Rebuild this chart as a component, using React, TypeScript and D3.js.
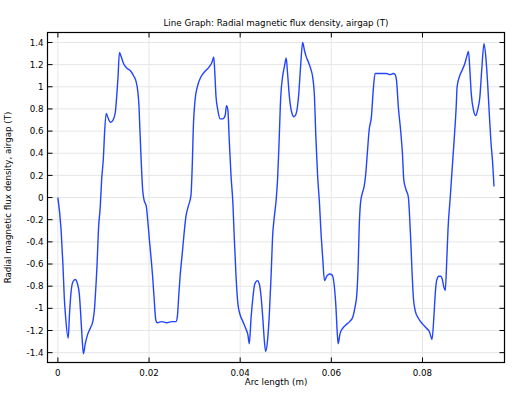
import React from "react";
import * as d3 from "d3";

const arcLength: number[] = [
  0, 0.0007, 0.0011, 0.0014, 0.0017, 0.00226, 0.00255, 0.00285, 0.0033, 0.0038, 0.0043, 0.0047, 0.005, 0.0053, 0.0056,
  0.006, 0.0065, 0.0071, 0.0077, 0.008, 0.0082, 0.0086, 0.0089, 0.0093, 0.0096, 0.01, 0.0102, 0.0106, 0.011, 0.0115,
  0.0121, 0.0126, 0.0129, 0.0132, 0.0135, 0.0139, 0.0144, 0.0151, 0.016, 0.0166, 0.0172, 0.0175, 0.0178, 0.018, 0.0183,
  0.0186, 0.0189, 0.0194, 0.0197, 0.0201, 0.0205, 0.0208, 0.0211, 0.0215, 0.0218, 0.0228, 0.0239, 0.025, 0.0259, 0.0262,
  0.0265, 0.0268, 0.0273, 0.0277, 0.0281, 0.0286, 0.0292, 0.0295, 0.0297, 0.0301, 0.0306, 0.0314, 0.0323, 0.0332, 0.0338,
  0.0342, 0.0344, 0.0347, 0.0351, 0.0356, 0.0362, 0.0367, 0.037, 0.0373, 0.0376, 0.038, 0.0384, 0.0387, 0.0391, 0.0395,
  0.04, 0.0406, 0.0412, 0.0417, 0.042, 0.0424, 0.0428, 0.0432, 0.0438, 0.0442, 0.0446, 0.045, 0.0453, 0.0456, 0.046,
  0.0464, 0.0468, 0.0471, 0.0475, 0.0479, 0.0482, 0.0485, 0.0489, 0.0493, 0.0497, 0.0501, 0.0504, 0.0508, 0.0513, 0.0518,
  0.0523, 0.0528, 0.0533, 0.0537, 0.0541, 0.0545, 0.055, 0.0555, 0.0559, 0.0563, 0.0566, 0.057, 0.0574, 0.0577, 0.0581,
  0.0585, 0.059, 0.0596, 0.0602, 0.0606, 0.061, 0.0613, 0.0615, 0.0619, 0.0625, 0.0632, 0.064, 0.0647, 0.0652, 0.0656,
  0.0659, 0.0661, 0.0664, 0.0668, 0.0672, 0.0675, 0.0679, 0.0683, 0.0688, 0.0692, 0.0696, 0.07, 0.0707, 0.0714, 0.0721,
  0.0729, 0.0736, 0.074, 0.0743, 0.0747, 0.0752, 0.0756, 0.0759, 0.0764, 0.0769, 0.0771, 0.0774, 0.0777, 0.078, 0.0784,
  0.0791, 0.08, 0.0809, 0.0815, 0.0819, 0.0821, 0.0825, 0.0828, 0.0831, 0.0836, 0.084, 0.0843, 0.0847, 0.085, 0.0853,
  0.0856, 0.0861, 0.0865, 0.087, 0.0874, 0.0876, 0.0881, 0.0887, 0.0893, 0.0897, 0.0901, 0.0904, 0.0907, 0.0912, 0.0917,
  0.0921, 0.0926, 0.093, 0.0935, 0.0939, 0.0943, 0.0947, 0.095, 0.0954, 0.0957,
];

const fluxDensity: number[] = [
  0, -0.29, -0.6, -0.9, -1.08, -1.27, -1.05, -0.87, -0.76, -0.74, -0.78, -0.87, -1.05, -1.26, -1.41,
  -1.32, -1.24, -1.18, -1.11, -1.02, -0.9, -0.6, -0.29, -0.08, 0.16, 0.37, 0.55, 0.76, 0.72, 0.68,
  0.7, 0.77, 0.91, 1.09, 1.31, 1.27, 1.21, 1.17, 1.14, 1.1, 1.04, 0.97, 0.82, 0.61, 0.31,
  0.07, -0.02, -0.08, -0.2, -0.39, -0.57, -0.72, -0.9, -1.11, -1.13, -1.12, -1.13, -1.12, -1.12, -1.08,
  -0.9, -0.72, -0.5, -0.32, -0.17, -0.08, 0.02, 0.31, 0.61, 0.88, 1.0, 1.09, 1.14, 1.18, 1.22,
  1.27, 1.15, 0.91, 0.79, 0.71, 0.71, 0.74, 0.83, 0.79, 0.52, 0.19, -0.05, -0.36, -0.72, -0.96,
  -1.06, -1.12, -1.18, -1.24, -1.32, -1.08, -0.9, -0.78, -0.75, -0.78, -0.9, -1.11, -1.29, -1.39, -1.29,
  -1.05, -0.69, -0.36, -0.17, -0.02, 0.16, 0.46, 0.91, 1.09, 1.18, 1.26, 1.12, 0.91, 0.77, 0.73,
  0.76, 0.91, 1.21, 1.4, 1.33, 1.27, 1.22, 1.16, 1.09, 0.91, 0.55, 0.19, -0.05, -0.29, -0.54,
  -0.75, -0.71, -0.69, -0.7, -0.78, -0.98, -1.22, -1.32, -1.23, -1.18, -1.15, -1.12, -1.08, -0.99, -0.87,
  -0.6, -0.29, -0.05, 0.04, 0.1, 0.19, 0.4, 0.61, 0.73, 0.97, 1.12, 1.12, 1.12, 1.12, 1.12,
  1.11, 1.12, 1.11, 1.06, 0.82, 0.61, 0.4, 0.16, 0.07, 0.005, -0.11, -0.36, -0.66, -0.9, -1.02,
  -1.09, -1.14, -1.18, -1.21, -1.26, -1.28, -1.08, -0.87, -0.75, -0.71, -0.71, -0.73, -0.81, -0.84, -0.6,
  -0.29, 0.005, 0.25, 0.55, 0.82, 1.0, 1.09, 1.15, 1.21, 1.27, 1.32, 1.15, 0.94, 0.79, 0.74,
  0.79, 0.91, 1.15, 1.39, 1.27, 1.03, 0.73, 0.52, 0.31, 0.1,
];

const xTicks: number[] = [0, 0.02, 0.04, 0.06, 0.08];
const yTicks: number[] = [-1.4, -1.2, -1, -0.8, -0.6, -0.4, -0.2, 0, 0.2, 0.4, 0.6, 0.8, 1, 1.2, 1.4];

const titleText = "Line Graph: Radial magnetic flux density, airgap (T)";
const xLabel = "Arc length (m)";
const yLabel = "Radial magnetic flux density, airgap (T)";

export default function App() {
  const W = 519;
  const H = 395;
  const left = 47.5;
  const right = 504.5;
  const top = 32.5;
  const bottom = 362.5;

  const x = d3.scaleLinear().domain([-0.00228, 0.098]).range([left, right]);
  const y = d3.scaleLinear().domain([-1.489, 1.49]).range([bottom, top]);

  const data = arcLength.map((a, i) => [a, fluxDensity[i]] as [number, number]);
  const line = d3
    .line<[number, number]>()
    .x((d) => x(d[0]))
    .y((d) => y(d[1]))
    .curve(d3.curveMonotoneX);

  const font = "'DejaVu Sans', sans-serif";
  const fs = 8.7;
  const tickLen = 5;

  return (
    <svg
      width={W}
      height={H}
      style={{ position: "absolute", left: 0, top: 0, background: "#fff" }}
    >
      <rect x={0} y={0} width={W} height={H} fill="#fff" />
      {/* grid */}
      {xTicks.map((t) => (
        <line key={"gx" + t} x1={x(t)} x2={x(t)} y1={top} y2={bottom} stroke="#e6e6e6" strokeWidth={1} />
      ))}
      {yTicks.map((t) => (
        <line key={"gy" + t} x1={left} x2={right} y1={y(t)} y2={y(t)} stroke="#e6e6e6" strokeWidth={1} />
      ))}
      {/* data line */}
      <path d={line(data) || ""} fill="none" stroke="#2244ff" strokeWidth={1.4} strokeLinejoin="round" />
      {/* frame */}
      <rect x={left} y={top} width={right - left} height={bottom - top} fill="none" stroke="#000" strokeWidth={1.2} />
      {/* ticks */}
      {xTicks.map((t) => (
        <g key={"tx" + t}>
          <line x1={x(t)} x2={x(t)} y1={bottom} y2={bottom - tickLen} stroke="#000" />
          <line x1={x(t)} x2={x(t)} y1={top} y2={top + tickLen} stroke="#000" />
          <text x={x(t)} y={375.5} fontSize={fs} fontFamily={font} textAnchor="middle" fill="#000">
            {String(t)}
          </text>
        </g>
      ))}
      {yTicks.map((t) => (
        <g key={"ty" + t}>
          <line x1={left} x2={left + tickLen} y1={y(t)} y2={y(t)} stroke="#000" />
          <line x1={right} x2={right - tickLen} y1={y(t)} y2={y(t)} stroke="#000" />
          <text x={left - 4} y={y(t) + 3.1} fontSize={fs} fontFamily={font} textAnchor="end" fill="#000">
            {String(t)}
          </text>
        </g>
      ))}
      {/* labels */}
      <text x={(left + right) / 2} y={26} fontSize={fs} fontFamily={font} textAnchor="middle" fill="#000">
        {titleText}
      </text>
      <text x={(left + right) / 2} y={384.5} fontSize={fs} fontFamily={font} textAnchor="middle" fill="#000">
        {xLabel}
      </text>
      <text
        transform={`translate(10.5, ${(top + bottom) / 2}) rotate(-90)`}
        fontSize={fs}
        fontFamily={font}
        textAnchor="middle"
        fill="#000"
      >
        {yLabel}
      </text>
    </svg>
  );
}
